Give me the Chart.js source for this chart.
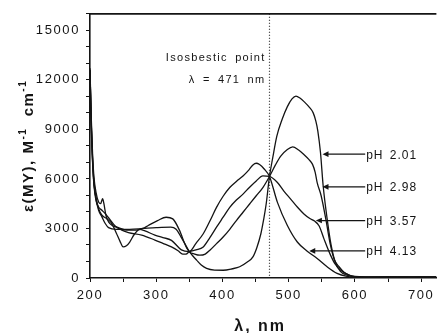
<!DOCTYPE html>
<html>
<head>
<meta charset="utf-8">
<script src="https://cdn.jsdelivr.net/npm/chart.js@4.4.1/dist/chart.umd.min.js"></script>
<style>
  html, body { margin: 0; padding: 0; background: #fff; }
  #wrap { width: 438px; height: 333px; }
</style>
</head>
<body>
<div id="wrap"><canvas id="chart" width="438" height="333"></canvas></div>
<script>
// spectra: [wavelength nm, epsilon M^-1 cm^-1]
const ph201 = [[200,12700],[202,9600],[204,7400],[206,6100],[209,5200],[213,4600],[216,4500],[219,4800],[221,4500],[224,3800],[228,3400],[235,3150],[243,3050],[255,2900],[270,2900],[280,3000],[288,3180],[302,3480],[315,3680],[325,3580],[335,2900],[345,1900],[350,1600],
  [355,1350],[361,1080],[368,780],[376,580],[388,480],[401,470],[415,560],[426,680],[437,950],[446,1280],[452,1850],[458,2680],[462,3500],[466,4480],[471,6150],[476,7300],[482,8580],[490,9600],[498,10380],[505,10850],[511,11020],[517,10900],[524,10650],[531,10350],[537,10000],[541,9500],[544,8900],[548,7600],[552,5600],[558,3600],[564,2000],[570,1000],[578,400],[588,170],[600,80],[620,50],[650,60],[680,50],[700,70],[723,60]];
const ph298 = [[200,12600],[202,9300],[204,7100],[206,5800],[209,4800],[213,4100],[218,3700],[223,3300],[228,3050],[240,2950],[260,2950],[280,3000],[300,3050],[322,3080],[330,2950],[338,2450],[345,1950],[350,1600],
  [358,1450],[366,1380],[374,1450],[381,1680],[391,2080],[401,2480],[411,2950],[421,3480],[431,3980],[441,4480],[451,4980],[461,5480],[471,6150],[480,6850],[488,7380],[498,7780],[506,7940],[515,7750],[523,7480],[530,7200],[536,6880],[540,6400],[543,5780],[549,4980],[556,3580],[563,2000],[569,1100],[576,680],[584,330],[591,180],[600,90],[620,60],[650,50],[680,70],[700,60],[723,70]];
const ph357 = [[200,12500],[202,9000],[204,6900],[206,5600],[209,4700],[213,4300],[218,4100],[223,3900],[228,3650],[238,3150],[248,2900],[258,2750],[278,2600],[298,2300],[310,2100],[323,1880],[333,1650],[340,1450],[345,1450],[350,1600],
  [360,1700],[371,1880],[381,2450],[391,3080],[401,3680],[411,4280],[421,4720],[431,5080],[441,5500],[451,5880],[461,6180],[471,6150],[483,5780],[493,5250],[503,4780],[513,4300],[523,3880],[532,3600],[539,3450],[546,3150],[553,2400],[563,1400],[570,850],[578,480],[593,140],[600,80],[620,50],[650,70],[680,60],[700,50],[723,60]];
const ph413 = [[200,12600],[202,9200],[204,7000],[206,5700],[209,4900],[213,4200],[218,3800],[225,3600],[232,3350],[240,2700],[245,2250],[250,1880],[255,1950],[260,2180],[267,2650],[275,2950],[283,2850],[298,2600],[310,2450],[323,2280],[338,1700],[350,1600],
  [360,2100],[371,2680],[381,3450],[391,4280],[401,4950],[411,5480],[421,5850],[431,6180],[440,6550],[446,6850],[451,6950],[456,6870],[463,6600],[471,6150],[483,4580],[498,3180],[513,2180],[528,1620],[543,1180],[558,680],[573,280],[588,100],[600,60],[620,50],[650,60],[680,50],[700,60],[723,50]];

const phLabels = ['pH 2.01', 'pH 2.98', 'pH 3.57', 'pH 4.13'];
const arrowTipNm = [551, 551, 541, 531];
const arrowEps = [7500, 5520, 3480, 1640];
const labelNm = 617;
const isoNm = 471;

const FONT = "'Liberation Sans', Arial, Helvetica, sans-serif";
const INK = '#141414';

const overlay = {
  id: 'overlay',
  beforeDraw(chart) {
    // the original has loosely spaced lettering
    chart.ctx.letterSpacing = '1.6px';
  },
  beforeDatasetsDraw(chart) {
    const { ctx, chartArea: a, scales: { x } } = chart;
    const xi = x.getPixelForValue(isoNm);
    ctx.save();
    ctx.strokeStyle = '#222';
    ctx.lineWidth = 1.2;
    ctx.setLineDash([1, 2]);
    ctx.beginPath();
    ctx.moveTo(xi, a.top);
    ctx.lineTo(xi, a.bottom);
    ctx.stroke();
    ctx.restore();
  },
  afterDraw(chart) {
    const { ctx, chartArea: a, scales: { x, y } } = chart;
    ctx.save();
    ctx.fillStyle = INK;
    ctx.strokeStyle = INK;

    // top frame
    ctx.lineWidth = 1.8;
    ctx.beginPath();
    ctx.moveTo(a.left, a.top);
    ctx.lineTo(a.right, a.top);
    ctx.stroke();

    // isosbestic note
    const xi = x.getPixelForValue(isoNm);
    ctx.font = '11px ' + FONT;
    ctx.letterSpacing = '1.3px';
    ctx.wordSpacing = '3px';
    ctx.textAlign = 'right';
    ctx.textBaseline = 'alphabetic';
    ctx.fillText('Isosbestic point', xi - 4, 61);
    ctx.fillText('λ = ' + isoNm + ' nm', xi - 4, 83);

    // pH labels with arrows
    ctx.font = '12px ' + FONT;
    ctx.letterSpacing = '1px';
    ctx.wordSpacing = '2px';
    ctx.textAlign = 'left';
    ctx.lineWidth = 1.3;
    const lx = x.getPixelForValue(labelNm);
    phLabels.forEach((txt, i) => {
      const tx = x.getPixelForValue(arrowTipNm[i]);
      const ty = y.getPixelForValue(arrowEps[i]);
      ctx.beginPath();
      ctx.moveTo(lx - 1, ty);
      ctx.lineTo(tx + 5, ty);
      ctx.stroke();
      ctx.beginPath();
      ctx.moveTo(tx, ty);
      ctx.lineTo(tx + 6, ty - 2.8);
      ctx.lineTo(tx + 6, ty + 2.8);
      ctx.closePath();
      ctx.fill();
      ctx.fillText(txt, lx, ty + 4.5);
    });

    // x axis title
    ctx.font = 'bold 16px ' + FONT;
    ctx.letterSpacing = '2px';
    ctx.wordSpacing = '0px';
    ctx.textAlign = 'center';
    ctx.fillText('λ, nm', (a.left + a.right) / 2 - 3, 331);

    // y axis title, rotated, with superscripts
    const main = 'bold 15px ' + FONT;
    const sup = 'bold 10px ' + FONT;
    ctx.letterSpacing = '1.5px';
    const parts = [[main, 'ε(MY), M', 0], [sup, '-1', 7], [main, '  cm', 0], [sup, '-1', 7]];
    let total = 0;
    parts.forEach(p => { ctx.font = p[0]; total += ctx.measureText(p[1]).width; });
    ctx.translate(33, (a.top + a.bottom) / 2 + total / 2);
    ctx.rotate(-Math.PI / 2);
    ctx.textAlign = 'left';
    let u = 0;
    parts.forEach(p => {
      ctx.font = p[0];
      ctx.fillText(p[1], u, -p[2]);
      u += ctx.measureText(p[1]).width;
    });
    ctx.restore();
  }
};

const tickFont = { size: 13, family: FONT };
const mkSet = (pts) => ({
  data: pts.map(([nm, e]) => ({ x: nm, y: e })),
  borderColor: INK,
  borderWidth: 1.3,
  pointRadius: 0,
  fill: false,
  cubicInterpolationMode: 'monotone'
});

new Chart(document.getElementById('chart'), {
  type: 'line',
  data: { datasets: [mkSet(ph201), mkSet(ph298), mkSet(ph357), mkSet(ph413)] },
  options: {
    responsive: false,
    animation: false,
    events: [],
    layout: { padding: { top: 13, right: 0, bottom: 0, left: 0 } },
    plugins: { legend: { display: false }, tooltip: { enabled: false } },
    scales: {
      x: {
        type: 'linear', min: 200, max: 723,
        afterFit: s => { s.height = 55; },
        ticks: {
          stepSize: 50, autoSkip: false, includeBounds: false, maxRotation: 0,
          padding: 6, color: INK, font: tickFont,
          callback: v => (v % 100 === 0 ? String(v) : '')
        },
        grid: { drawOnChartArea: false, tickLength: 4, color: INK, lineWidth: 1 },
        border: { color: INK, width: 1.6 }
      },
      y: {
        type: 'linear', min: 0, max: 16000,
        afterFit: s => { s.width = 90; },
        ticks: {
          stepSize: 1000, autoSkip: false, includeBounds: false,
          padding: 6, color: INK, font: tickFont,
          callback: v => (v % 3000 === 0 ? String(v) : '')
        },
        grid: { drawOnChartArea: false, tickLength: 4, color: INK, lineWidth: 1 },
        border: { color: INK, width: 1.6 }
      }
    }
  },
  plugins: [overlay]
});
</script>
</body>
</html>
